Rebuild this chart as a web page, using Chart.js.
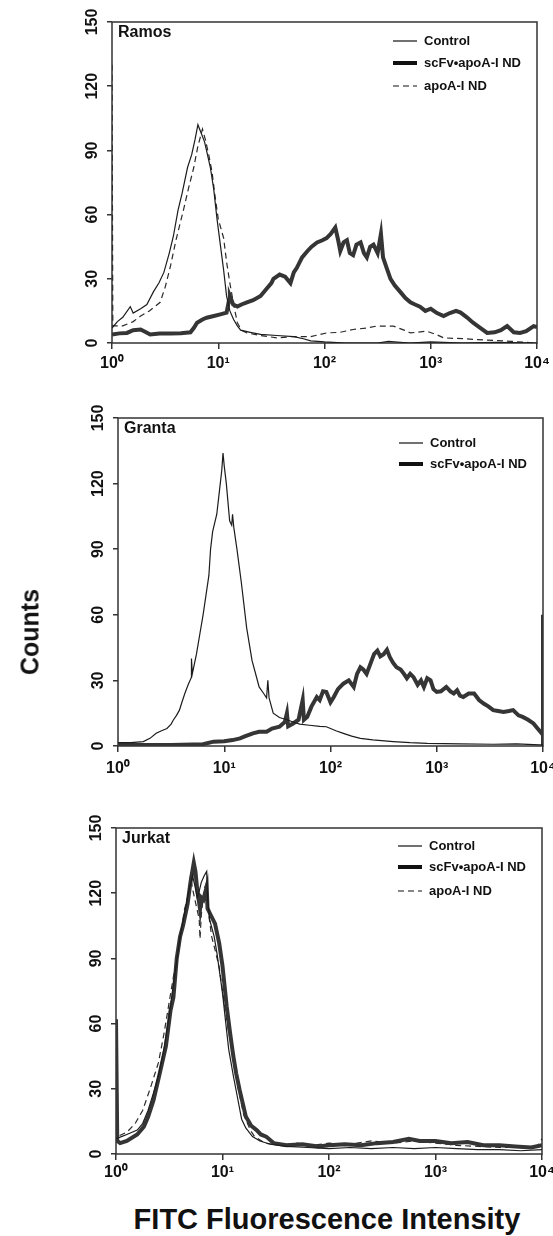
<!DOCTYPE html>
<html>
<head>
<meta charset="utf-8">
<script src="https://cdn.jsdelivr.net/npm/chart.js@4.4.0/dist/chart.umd.min.js"></script>
<style>
  body { margin: 0; background: #fff; width: 553px; height: 1236px; position: relative; overflow: hidden;
         font-family: "Liberation Sans", Arial, sans-serif; }
  canvas { position: absolute; left: 0; }
  #ramos { top: 0; }
  #granta { top: 395px; }
  #jurkat { top: 805px; }
  .ytitle { position: absolute; left: 30px; top: 632px; transform: translate(-50%, -50%) rotate(-90deg);
            font-weight: bold; font-size: 25px; color: #111; white-space: nowrap; }
  .xtitle { position: absolute; left: 327px; top: 1219px; transform: translate(-50%, -50%);
            font-weight: bold; font-size: 29px; color: #111; white-space: nowrap; }
</style>
</head>
<body>
<canvas id="ramos" width="553" height="380"></canvas>
<canvas id="granta" width="553" height="390"></canvas>
<canvas id="jurkat" width="553" height="385"></canvas>
<div class="ytitle">Counts</div>
<div class="xtitle">FITC Fluorescence Intensity</div>
<script>
// histogram channels (1024 channels over 4 log decades) and counts
const ramosCtrlCh = [0,13,26,44,51,69,84,100,113,125,138,148,159,169,182,192,200,207,215,223,230,237,245,253,261,269,276,284,293,302,310,333,358,397,438,461,479,512,563,640,666,717,768,845,922,1024];
const ramosCtrl   = [7,10,12,17,14,16,18,24,28,33,42,50,62,70,82,88,95,102,98,94,88,82,72,58,46,34,22,15,11,8,6,5,4,3.5,3,2,1,0.5,0,0,0.8,0,0.5,0,0.3,0];

const ramosScfvCh = [0,18,36,51,69,82,92,115,141,166,189,197,205,218,228,243,261,276,282,284,292,302,312,325,340,358,371,384,389,404,417,430,438,445,458,471,481,494,507,517,527,538,545,550,558,566,573,581,589,599,607,614,622,630,640,648,653,660,671,681,694,707,719,730,742,755,768,783,799,814,829,840,855,870,888,904,922,937,952,968,983,998,1016,1024];
const ramosScfv   = [4,4.5,4.7,6,6.3,5,4,4.4,4.4,4.6,5,7,9.5,11,11.8,12.5,13.4,14.2,20,22,18,17,18,19,20,22,25,28,30,32,31,28,33,35,40,43,45,47,48,49,51,54,48,43,47,48,42,41,46,47,42,40,45,46,42,51,40,36,30,27,24,21,19,18,17,15,16,14,12.6,14,15,14.2,12,9.5,7,4.7,5,6,7.9,5,4.7,5.5,7.9,7.5];

const ramosApoCh = [0,2,26,51,69,90,116,128,141,154,172,184,197,207,218,225,233,241,248,256,269,276,284,294,302,312,325,358,397,435,479,517,550,581,614,637,678,704,719,758,781,799,845,881,922,960,998,1024];
const ramosApo   = [130,8,8,10,12.6,15,19,26,36,48,62,72,82,92,100,95,88,80,69,58,49,38,28,17,9.5,6,4.7,3.5,2.4,3,3,4.7,5,6.3,7,7.9,7.9,6,4.7,5.5,4,2.4,2,1.6,1.2,0.8,0.3,0];

const grantaCtrlCh = [0,31,61,77,92,105,118,128,133,141,148,154,161,169,177,177,179,189,197,205,212,219,223,228,238,244,250,253,256,261,269,274,276,279,287,297,310,323,333,340,351,358,361,364,374,389,407,422,438,461,486,502,525,543,563,584,614,663,704,745,824,904,960,1016,1024];
const grantaCtrl   = [1.5,1.5,2,3.5,5.8,7,8,10,11.8,14,16.4,20,24,28,31.5,40,33,42,51,60,69,78,90,98,106,116,126,134,128,120,103,101,106,100,89.5,75,54,39,32,27,24,22,30,22,15,13,12,11,10,9.5,9,8.8,7,5.8,4.5,3.5,2.8,2,1.5,1.2,1,0.8,1,0.5,0.5];

const grantaScfvCh = [0,128,205,230,256,276,294,307,325,340,358,371,389,402,407,410,422,435,445,448,456,466,479,486,494,502,512,520,530,543,556,568,576,584,591,599,609,617,625,632,640,648,655,663,671,681,689,696,704,712,722,730,737,745,753,760,768,778,791,801,809,817,824,832,845,858,870,881,893,904,916,929,942,952,965,975,988,1001,1011,1021,1024,1024,1024];
const grantaScfv   = [0.5,0.5,0.8,2,2.2,2.7,3.5,4.5,5.8,6.5,6.5,8,8.8,11,15,9,10.3,12,21,12,13.3,18,22.4,21,25,24.7,20,22.4,26,28.5,30,27,33,36,35,33,38,42,43.6,41,42,44,40.6,38,36,35,33,31,33,31.5,28,30,27,31,30,26,24.7,25,27,25,24,25.5,23,22.4,24,24,21,19.4,18,16.4,16,15.6,16,16.4,14,13.3,12,10.3,8,5.8,6,60,0];

const jurkatCtrlCh = [0,13,26,51,64,77,90,102,115,128,141,154,166,174,184,189,195,200,205,212,218,220,225,236,243,256,264,271,282,292,302,312,328,346,371,410,461,512,563,614,666,717,768,819,870,922,973,1024];
const jurkatCtrl   = [7,8,9,11,14,20,28,36,48,64,82,100,112,120,128,124,118,121,125,128,130,118,108,100,92,74,60,48,36,26,16,12,8,6,4.5,3.5,3,2.5,3,2.5,3,2.5,3,2.5,2,2,1.5,2];

const jurkatScfvCh = [0,3,10,26,51,67,77,90,105,120,131,138,146,154,161,172,179,187,191,195,202,205,210,218,220,225,238,248,256,266,274,282,289,297,312,325,338,348,361,379,410,448,486,512,550,589,627,666,704,730,768,806,845,883,922,960,998,1024];
const jurkatScfv   = [62,6,5,6,9,12.6,17,24.6,37,49.6,66,72,90,100,105,115,125,134,130,122,112.7,118,117,123,113,111,106,97,86.5,68,56,45,37,29.6,17.3,13,11,9,8,5,4,4.5,3.5,4,4.5,4,5,5.5,7,6,6,5,5.5,4,4,3.5,3,4];

const jurkatApoCh = [0,3,26,46,64,82,102,115,128,141,154,164,172,179,184,192,200,202,205,212,218,223,230,238,248,256,269,282,294,307,323,333,358,397,435,474,512,563,614,666,717,768,819,870,922,973,1011,1024];
const jurkatApo   = [62,8,10,14,20,30,42,55,70,85,98,112,118,128,122,115,108,99,110,122,125,110,100,94,86,75,58,45,30,18,11,8,5,4,5,4,5,4.5,6,5,6,5,4,3.5,3,3,3,7];

const xTicks = [1, 10, 100, 1000, 10000];
const yMax = 150;
const yStep = 30;
const sup = ['\u2070', '\u00b9', '\u00b2', '\u00b3', '\u2074'];

const FONT = "'Liberation Sans', Arial, sans-serif";
const thin = { borderColor: '#1c1c1c', borderWidth: 1.2 };
const thick = { borderColor: '#353535', borderWidth: 4 };
const dashed = { borderColor: '#2a2a2a', borderWidth: 1.2, borderDash: [6, 4] };

function toPoints(ch, counts) {
  return ch.map((c, i) => ({ x: Math.pow(10, c / 256), y: counts[i] }));
}

// frame around the plot, panel name and the little legend in the corner
const panelText = {
  id: 'panelText',
  beforeDatasetsDraw(chart) {
    const { ctx, chartArea: a } = chart;
    ctx.save();
    ctx.strokeStyle = '#333';
    ctx.lineWidth = 1.5;
    ctx.strokeRect(a.left, a.top, a.right - a.left, a.bottom - a.top);
    ctx.restore();
  },
  afterDraw(chart, args, opts) {
    const { ctx, chartArea: a } = chart;
    ctx.save();
    ctx.fillStyle = '#111';
    ctx.textBaseline = 'middle';
    ctx.font = 'bold 16px ' + FONT;
    ctx.fillText(opts.title, a.left + 6, a.top + 11);
    ctx.font = 'bold 13px ' + FONT;
    chart.data.datasets.forEach((ds, i) => {
      const y = a.top + opts.rows[i];
      const x0 = a.right - 144;
      ctx.beginPath();
      ctx.strokeStyle = '#111';
      ctx.lineWidth = ds.borderWidth;
      ctx.setLineDash(ds.borderDash || []);
      ctx.moveTo(x0, y);
      ctx.lineTo(x0 + 24, y);
      ctx.stroke();
      ctx.setLineDash([]);
      ctx.fillText(ds.label, x0 + 31, y);
    });
    ctx.restore();
  }
};

function makePanel(id, title, sets, box) {
  new Chart(document.getElementById(id), {
    type: 'line',
    data: {
      datasets: sets.map(s => Object.assign({
        label: s.label,
        data: toPoints(s.ch, s.counts),
        pointRadius: 0,
        tension: 0,
        fill: false
      }, s.style))
    },
    options: {
      responsive: false,
      animation: false,
      devicePixelRatio: 1,
      layout: { padding: { top: box.top, right: box.right, left: 0, bottom: 0 } },
      plugins: {
        legend: { display: false },
        tooltip: { enabled: false },
        panelText: { title: title, rows: box.rows }
      },
      scales: {
        x: {
          type: 'logarithmic',
          min: 1,
          max: 10000,
          afterBuildTicks: s => { s.ticks = xTicks.map(v => ({ value: v })); },
          afterFit: s => { s.height = box.xh; s.paddingLeft = 0; s.paddingRight = 0; },
          border: { display: false },
          grid: { drawOnChartArea: false, color: '#333', lineWidth: 1.5, tickLength: 6 },
          ticks: {
            autoSkip: false, maxRotation: 0, padding: box.xpad, color: '#111',
            font: { family: FONT, size: 16, weight: 'bold' },
            callback: v => '10' + sup[Math.round(Math.log10(v))]
          }
        },
        y: {
          min: 0,
          max: yMax,
          afterFit: s => { s.width = box.left; s.paddingTop = 0; s.paddingBottom = 0; },
          border: { display: false },
          grid: { drawOnChartArea: false, color: '#333', lineWidth: 1.5, tickLength: 5 },
          ticks: {
            stepSize: yStep, minRotation: 90, maxRotation: 90, crossAlign: 'center', padding: 1,
            color: '#111', font: { family: FONT, size: 16, weight: 'bold' }
          }
        }
      }
    },
    plugins: [panelText]
  });
}

makePanel('ramos', 'Ramos', [
  { label: 'Control', ch: ramosCtrlCh, counts: ramosCtrl, style: thin },
  { label: 'scFv\u2022apoA-I ND', ch: ramosScfvCh, counts: ramosScfv, style: thick },
  { label: 'apoA-I ND', ch: ramosApoCh, counts: ramosApo, style: dashed }
], { top: 22, right: 16, left: 112, xh: 37, xpad: 5, rows: [19, 41, 64] });

makePanel('granta', 'Granta', [
  { label: 'Control', ch: grantaCtrlCh, counts: grantaCtrl, style: thin },
  { label: 'scFv\u2022apoA-I ND', ch: grantaScfvCh, counts: grantaScfv, style: thick }
], { top: 23, right: 10, left: 118, xh: 39, xpad: 7, rows: [25, 46] });

makePanel('jurkat', 'Jurkat', [
  { label: 'Control', ch: jurkatCtrlCh, counts: jurkatCtrl, style: thin },
  { label: 'scFv\u2022apoA-I ND', ch: jurkatScfvCh, counts: jurkatScfv, style: thick },
  { label: 'apoA-I ND', ch: jurkatApoCh, counts: jurkatApo, style: dashed }
], { top: 23, right: 11, left: 116, xh: 36, xpad: 3, rows: [18, 39, 63] });
</script>
</body>
</html>
